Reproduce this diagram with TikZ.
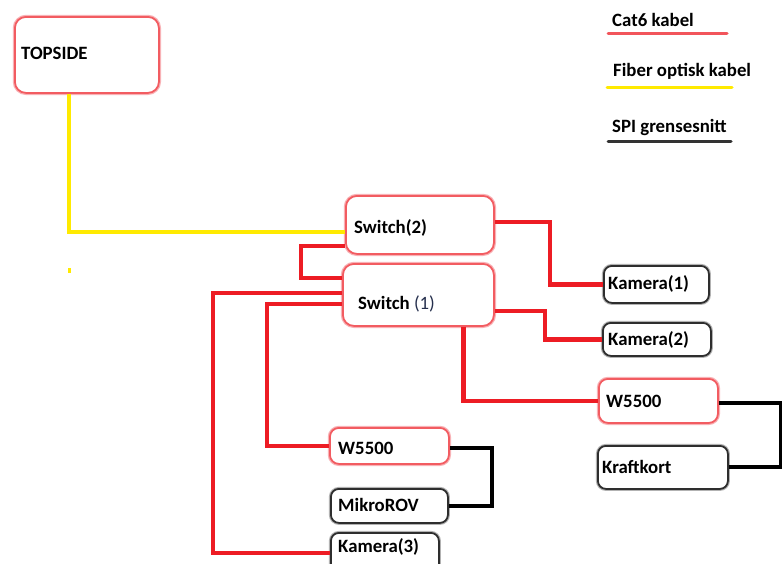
\documentclass[tikz,border=0pt]{standalone}
\usepackage{fontspec}
\setmainfont{Carlito}
\usetikzlibrary{calc}
\definecolor{cat}{RGB}{237,28,36}
\definecolor{fib}{RGB}{255,234,0}
\definecolor{halo}{RGB}{248,178,182}
\definecolor{numslate}{RGB}{38,48,78}
\begin{document}
\begin{tikzpicture}[x=1pt,y=-1pt,
  redbox/.style={draw=cat!72!white, line width=1.8pt, rounded corners=11pt, fill=white,
    inner sep=0pt, anchor=north west, preaction={draw=halo, line width=4.2pt}},
  blkbox/.style={draw=black!82, line width=1.8pt, rounded corners=8pt, fill=white,
    inner sep=0pt, anchor=north west, preaction={draw=black!30, line width=4pt}},
  lbl/.style={anchor=base west, inner sep=0pt, font=\fontsize{18.8}{21}\selectfont\bfseries},
  catline/.style={draw=cat, line width=4.2pt},
  fibline/.style={draw=fib, line width=4pt},
  spiline/.style={draw=black, line width=4pt},
]
\useasboundingbox (0,0) rectangle (782,563);

% boxes
\node[redbox, minimum width=144pt, minimum height=76pt] (top) at (14,16) {};
\node[redbox, minimum width=148pt, minimum height=58pt] (sw2) at (345,195) {};
\node[redbox, minimum width=151pt, minimum height=62pt] (sw1) at (342,263) {};
\node[blkbox, minimum width=105pt, minimum height=37pt] (kam1) at (603,265) {};
\node[blkbox, minimum width=108pt, minimum height=33pt] (kam2) at (602,322) {};
\node[redbox, rounded corners=9pt, minimum width=119pt, minimum height=44pt] (w55R) at (598,378) {};
\node[blkbox, minimum width=130pt, minimum height=43pt] (kraft) at (597,445) {};
\node[redbox, rounded corners=9pt, minimum width=119pt, minimum height=36pt] (w55L) at (329,427) {};
\node[blkbox, minimum width=117pt, minimum height=34pt] (mikro) at (330,488) {};
\node[blkbox, minimum width=108pt, minimum height=40pt] (kam3) at (330,532) {};

% labels
\node[lbl] (top-t)   at (21,59)    {TOPSIDE};
\node[lbl] (sw2-t)   at (354,233)  {Switch(2)};
\node[lbl] (sw1-t)   at (358,309)  {Switch {\mdseries\color{numslate}(1)}};
\node[lbl] (kam1-t)  at (608,289)  {Kamera(1)};
\node[lbl] (kam2-t)  at (608,345.5){Kamera(2)};
\node[lbl] (w55R-t)  at (606,407)  {W5500};
\node[lbl] (kraft-t) at (602,473)  {Kraftkort};
\node[lbl] (w55L-t)  at (338,454)  {W5500};
\node[lbl] (mikro-t) at (338,511)  {MikroROV};
\node[lbl] (kam3-t)  at (338,552)  {Kamera(3)};

% fibre link to the surface
\draw[fibline] ($(top.south)+(-18,0)$) |- ($(sw2.west)+(0,7)$);
\fill[fib] (67.5,268) rectangle (70.5,273);

% Cat6 links
\draw[catline] ($(sw2.west)+(0,21)$) -| ($(sw1.west)+(-41,-17)$) -- ($(sw1.west)+(0,-17)$);
\draw[catline] ($(sw1.west)+(0,-2)$) -| ($(kam3.west)+(-117,0)$) -- (kam3.west);
\draw[catline] ($(sw1.west)+(0,9)$) -| ($(w55L.west)+(-62,0)$) -- (w55L.west);
\draw[catline] ($(sw2.east)+(0,-3)$) -| ($(kam1.west)+(-53,0)$) -- (kam1.west);
\draw[catline] ($(sw1.east)+(0,16)$) -| ($(kam2.west)+(-57,0)$) -- (kam2.west);
\draw[catline] ($(sw1.south)+(45,0)$) |- (w55R.west);

% SPI links
\draw[spiline] ($(w55L.east)+(0,2)$) -| ($(mikro.east)+(43,0)$) -- (mikro.east);
\draw[spiline] ($(w55R.east)+(0,2)$) -| ($(kraft.east)+(52,0)$) -- (kraft.east);

% legend
\node[lbl] (lg-cat) at (612,26.5) {Cat6 kabel};
\node[lbl] (lg-fib) at (613,76)   {Fiber optisk kabel};
\node[lbl] (lg-spi) at (612,132.5){SPI grensesnitt};
\draw[draw=cat!75!white, line width=3pt, line cap=round] ($(lg-cat.base west)+(-4,6.5)$) -- ++(119,0);
\draw[draw=fib, line width=3pt, line cap=round] ($(lg-fib.base west)+(-6,11)$) -- ++(125,0);
\draw[draw=black!80, line width=3pt, line cap=round] ($(lg-spi.base west)+(-4,8.5)$) -- ++(123,0);
\end{tikzpicture}
\end{document}
